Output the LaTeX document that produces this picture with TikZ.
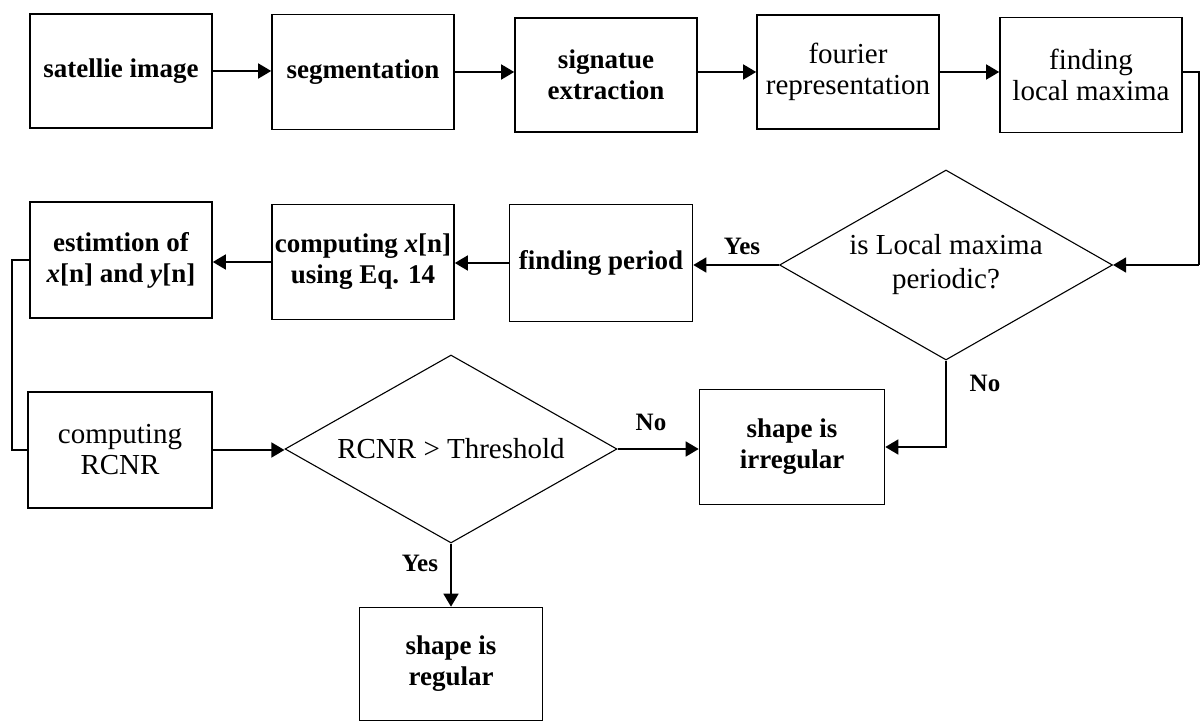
\documentclass[tikz,border=0pt]{standalone}
\usepackage{fontspec}
\setmainfont{Liberation Serif}
\usetikzlibrary{shapes.geometric,arrows.meta}
\begin{document}
\begin{tikzpicture}[x=1pt,y=-1pt,
  pbox/.style={draw,line width=1.6pt,align=center,inner sep=0pt,
    minimum width=182pt,minimum height=114pt,
    font=\bfseries\fontsize{27}{31}\selectfont},
  lbox/.style={pbox,font=\fontsize{29}{31}\selectfont},
  dec/.style={draw,diamond,aspect=1.75,line width=1.1pt,align=center,inner sep=0pt,
    minimum width=333pt,minimum height=190pt,
    font=\fontsize{29}{34}\selectfont},
  conn/.style={line width=1.6pt},
  arr/.style={conn,-{Triangle[length=13pt,width=15pt]}},
  lab/.style={font=\bfseries\fontsize{25}{28}\selectfont,inner sep=0pt}]
\useasboundingbox (0,0) rectangle (1200,722);
% top row
\node[pbox] (sat) at (121,71) {satellie image};
\node[pbox,minimum height=115pt] (seg) at (363,72) {segmentation};
\node[pbox] (sig) at (606,75) {signatue\\extraction};
\node[lbox] (fou) at (848,72) {fourier\\representation};
\node[lbox,minimum height=115pt] (fin) at (1091,75) {finding\\local maxima};
% second row
\node[pbox,minimum height=116pt] (est) at (121,260) {estimtion of\\\textit{x}[n] and \textit{y}[n]};
\node[pbox,minimum height=115pt] (cmp) at (363,262) {computing \textit{x}[n]\\using Eq. 14};
\node[pbox,minimum height=117pt,minimum width=183pt] (per) at (601,263) {finding period};
\node[dec] (d1) at (946,265) {is Local maxima\\periodic?};
% third row
\node[lbox,minimum width=184pt,minimum height=116pt] (rc) at (120,450) {computing\\RCNR};
\node[dec,minimum width=332pt,minimum height=188pt] (d2) at (451,449) {RCNR > Threshold};
\node[pbox,minimum width=185pt,minimum height=115pt] (irr) at (792,447) {shape is\\irregular};
\node[pbox,minimum width=183pt,minimum height=113pt] (reg) at (451,664) {shape is\\regular};
% coordinates
\coordinate (rt) at (1199,265);
\coordinate (lf) at (12,450);
% connectors
\draw[arr] (sat.east) -- (sat.east -| seg.west);
\draw[arr] (seg.east) -- (seg.east -| sig.west);
\draw[arr] (fou.west -| sig.east) -- (fou.west);
\draw[arr] (fou.east) -- (fou.east -| fin.west);
\draw[conn] (fou.east -| fin.east) -| (rt);
\draw[arr] (rt) -- (d1.east);
\draw[arr] (d1.west) -- (d1.west -| per.east);
\draw[arr] (per.west) -- (per.west -| cmp.east);
\draw[arr] (cmp.west) -- (cmp.west -| est.east);
\draw[conn] (est.west) -| (lf) -- (rc.west);
\draw[arr] (rc.east) -- (rc.east -| d2.west);
\draw[arr] (d2.east) -- (d2.east -| irr.west);
\draw[arr] (d1.south) |- (irr.east);
\draw[arr] (d2.south) -- (reg.north);
% labels
\node[lab] (y1) at (742,246) {Yes};
\node[lab] (n1) at (985,383) {No};
\node[lab] (n2) at (651,422) {No};
\node[lab] (y2) at (420,563) {Yes};
\end{tikzpicture}
\end{document}
